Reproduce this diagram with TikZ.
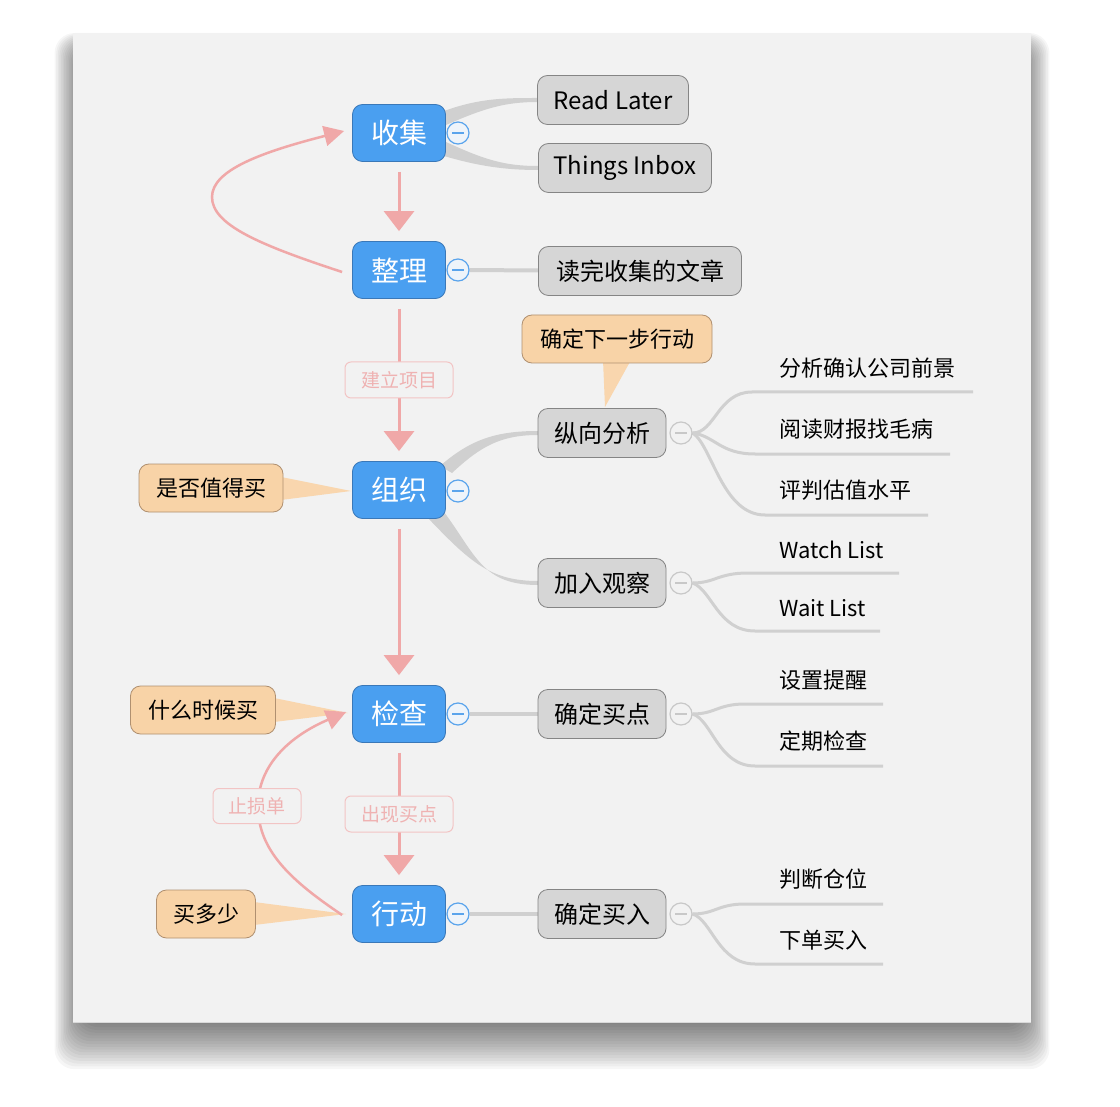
\documentclass[tikz,border=0pt]{standalone}
\usepackage{fontspec}
\setmainfont{Noto Sans CJK SC}
\usetikzlibrary{arrows.meta}
\definecolor{sheet}{HTML}{F2F2F2}
\definecolor{mainblue}{HTML}{4A9FF0}
\definecolor{mainedge}{HTML}{3A78B8}
\definecolor{subfill}{HTML}{D6D6D6}
\definecolor{subedge}{HTML}{858585}
\definecolor{orfill}{HTML}{F8D3A7}
\definecolor{oredge}{HTML}{B09070}
\definecolor{orwedge}{HTML}{F9D6AE}
\definecolor{pinkline}{HTML}{F0A8A8}
\definecolor{pinkbox}{HTML}{F2C4C4}
\definecolor{pinktext}{HTML}{EFB2B2}
\definecolor{branch}{HTML}{D0D0D0}
\definecolor{cbblue}{HTML}{5AA4EC}
\definecolor{cbfill}{HTML}{EEF4FA}
\definecolor{cbgray}{HTML}{C8C8C8}
\newcommand\fsz[1]{\fontsize{#1}{#1}\selectfont}
\pgfdeclarelayer{back}
\pgfdeclarelayer{bg}
\pgfsetlayers{back,bg,main}
\begin{document}
\begin{tikzpicture}[x=1pt,y=-1pt,
 mainnode/.style={rectangle, rounded corners=10pt, fill=mainblue, draw=mainedge, line width=0.8pt, text=white, font=\fsz{28}, minimum width=93pt, minimum height=57pt, inner sep=0pt},
 subnode/.style={rectangle, rounded corners=10pt, fill=subfill, draw=subedge, line width=0.8pt, font=\fsz{24}, minimum height=49pt, inner sep=0pt},
 callnode/.style={rectangle, rounded corners=10pt, fill=orfill, draw=oredge, line width=0.8pt, font=\fsz{22}, minimum height=48pt, inner sep=0pt},
 flowlabel/.style={rectangle, rounded corners=6pt, fill=sheet, draw=pinkbox, line width=1pt, text=pinktext, font=\fsz{19}, minimum width=108pt, minimum height=36pt, inner sep=0pt},
 leafnode/.style={anchor=west, font=\fsz{22}, inner sep=0pt},
 flow/.style={draw=pinkline, line width=3pt, -{Triangle[width=30pt,length=20pt]}, shorten <=10pt, shorten >=10pt},
 backflow/.style={draw=pinkline, line width=2.5pt, -{Triangle[width=20pt,length=20pt]}},
 taper/.style={fill=branch},
 wedge/.style={fill=orwedge},
 link/.style={draw=branch, line width=4pt},
 leafline/.style={draw=branch, line width=3pt},
 cbm/.style={circle, minimum size=22pt, inner sep=0pt, draw=cbblue, line width=1.2pt, fill=cbfill},
 cbs/.style={circle, minimum size=22pt, inner sep=0pt, draw=cbgray, line width=1.2pt, fill=sheet},
 cbmline/.style={draw=cbblue, line width=1.2pt},
 cbsline/.style={draw=cbgray, line width=1.2pt}
]
\useasboundingbox (0,0) rectangle (1120,1107);
\begin{pgfonlayer}{back}
\fill[white] (0,0) rectangle (1120,1107);
\foreach \i in {0,...,19}{
  \fill[black, opacity=0.035, rounded corners=20pt] ({85-\i*1.6},{52-\i*1.0}) rectangle ({1019+\i*1.6},{1016+\i*2.8});
}
\fill[sheet] (73,33) rectangle (1031,1022);
\draw[black!15, line width=0.6pt] (73,1022) -- (1031,1022);
\end{pgfonlayer}

% main nodes
\node[mainnode] (m1) at (399,133) {收集};
\node[mainnode] (m2) at (399,270) {整理};
\node[mainnode] (m3) at (399,490) {组织};
\node[mainnode] (m4) at (399,714) {检查};
\node[mainnode] (m5) at (399,914) {行动};

% sub nodes
\node[subnode, minimum width=151pt] (rl) at (613,100) {Read Later};
\node[subnode, minimum width=173pt] (ti) at (625,168) {Things Inbox};
\node[subnode, minimum width=203pt] (dw) at (640,271) {读完收集的文章};
\node[subnode, minimum width=128pt] (zx) at (602,433) {纵向分析};
\node[subnode, minimum width=128pt] (jr) at (602,583) {加入观察};
\node[subnode, minimum width=128pt] (qd) at (602,714) {确定买点};
\node[subnode, minimum width=128pt] (qr) at (602,914) {确定买入};

% callouts
\node[callnode, minimum width=190pt] (cx) at (617,339) {确定下一步行动};
\node[callnode, minimum width=144pt] (cs) at (211,488) {是否值得买};
\node[callnode, minimum width=145pt] (cw) at (203,710) {什么时候买};
\node[callnode, minimum width=99pt] (cd) at (206,914) {买多少};

% collapse buttons
\node[cbm] (k1) at (458,133) {};
\node[cbm] (k2) at (458,270) {};
\node[cbm] (k3) at (458,491) {};
\node[cbm] (k4) at (458,714) {};
\node[cbm] (k5) at (458,914) {};
\node[cbs] (j1) at (681,433) {};
\node[cbs] (j2) at (681,583) {};
\node[cbs] (j3) at (681,714) {};
\node[cbs] (j4) at (681,914) {};
\foreach \k in {k1,k2,k3,k4,k5}{\draw[cbmline] ([xshift=-6pt]\k.center) -- ([xshift=6pt]\k.center);}
\foreach \k in {j1,j2,j3,j4}{\draw[cbsline] ([xshift=-6pt]\k.center) -- ([xshift=6pt]\k.center);}

% leaves
\node[leafnode] (a1) at (779,368) {分析确认公司前景};
\node[leafnode] (a2) at (779,429) {阅读财报找毛病};
\node[leafnode] (a3) at (779,490) {评判估值水平};
\node[leafnode] (b1) at (779,550) {Watch List};
\node[leafnode] (b2) at (779,608) {Wait List};
\node[leafnode] (c1) at (779,680) {设置提醒};
\node[leafnode] (c2) at (779,741) {定期检查};
\node[leafnode] (d1) at (779,879) {判断仓位};
\node[leafnode] (d2) at (779,940) {下单买入};

% flow labels
\node[flowlabel, minimum width=88pt, minimum height=35pt] (zs) at (257,806) {止损单};

\begin{pgfonlayer}{bg}
% tapered branches
\fill[taper] (444,111) .. controls (480,98) and (505,98) .. (538,98) -- (538,102) .. controls (505,102) and (485,108) .. (446,125) -- cycle;
\fill[taper] (446,142) .. controls (485,160) and (505,166) .. (538,166) -- (538,170) .. controls (505,170) and (478,166) .. (444,156) -- cycle;
\fill[taper] (440,466) .. controls (470,440) and (495,431) .. (538,431) -- (538,435) .. controls (500,435) and (480,447) .. (452,473) -- cycle;
\fill[taper] (426,516) .. controls (470,562) and (490,581) .. (538,581) -- (538,585) .. controls (482,585) and (476,555) .. (444,512) -- cycle;
% straight links
\draw[link] (k2) -- (dw);
\draw[link] (k4) -- (qd);
\draw[link] (k5) -- (qr);
% leaf lines
\draw[leafline] (j1.east) .. controls (715,433) and (718,392) .. (752,392) -- (973,392);
\draw[leafline] (j1.east) .. controls (715,436) and (720,454) .. (755,454) -- (950,454);
\draw[leafline] (j1.east) .. controls (712,445) and (722,515) .. (765,515) -- (928,515);
\draw[leafline] (j2.east) .. controls (715,583) and (718,573) .. (748,573) -- (899,573);
\draw[leafline] (j2.east) .. controls (712,590) and (718,631) .. (755,631) -- (880,631);
\draw[leafline] (j3.east) .. controls (715,714) and (718,704) .. (745,704) -- (883,704);
\draw[leafline] (j3.east) .. controls (712,720) and (718,766) .. (755,766) -- (883,766);
\draw[leafline] (j4.east) .. controls (715,914) and (718,904) .. (745,904) -- (883,904);
\draw[leafline] (j4.east) .. controls (712,920) and (718,964) .. (755,964) -- (883,964);
% callout wedges
\fill[wedge] (603,360) -- (605,407) -- (631,360) -- cycle;
\fill[wedge] (281,477) -- (351,491) -- (281,500) -- cycle;
\fill[wedge] (274,698) -- (348,713) -- (274,722) -- cycle;
\fill[wedge] (254,902) -- (346,914) -- (254,925) -- cycle;
% flow arrows
\draw[flow] (m1) -- (m2);
\draw[flow] (m2) -- node[flowlabel] (jl) {建立项目} (m3);
\draw[flow] (m3) -- (m4);
\draw[flow] (m4) -- node[flowlabel] (cx2) {出现买点} (m5);
\draw[backflow] ([xshift=-10pt,yshift=-2pt]m2.west) .. controls (260,245) and (212,225) .. (212,197) .. controls (212,170) and (262,152) .. ([xshift=-8pt,yshift=2pt]m1.west);
\draw[backflow] ([xshift=-10pt,yshift=-1pt]m5.west) .. controls (290,880) and (258,850) .. (258,806) .. controls (258,765) and (290,736) .. ([xshift=-6pt,yshift=2pt]m4.west);
\end{pgfonlayer}
\end{tikzpicture}
\end{document}
